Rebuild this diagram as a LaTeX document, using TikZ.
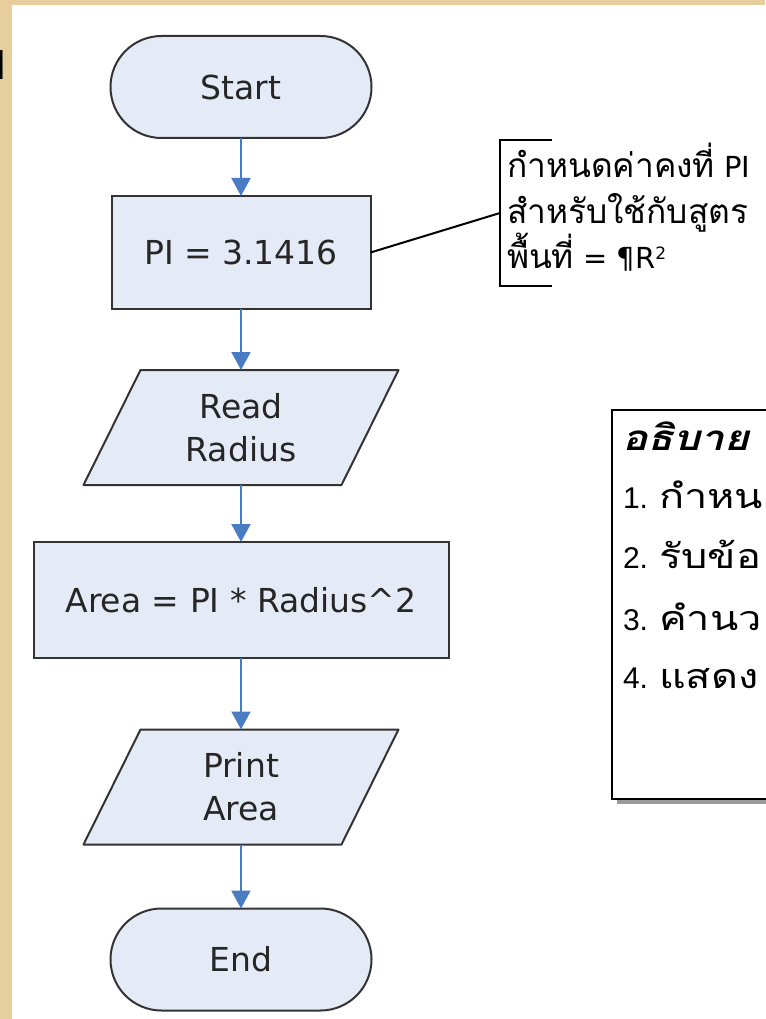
\documentclass[tikz,border=0pt]{standalone}
\usepackage{fontspec}
\setmainfont{DejaVu Sans}
\newfontfamily\thaifont[Script=Thai]{Loma}
\newfontfamily\thaiwide[Script=Thai,FakeStretch=1.22]{Loma}
\newfontfamily\arialfont{Liberation Sans}
\usetikzlibrary{arrows.meta,backgrounds}
\pgfdeclarelayer{paper}
\pgfsetlayers{paper,background,main}
\definecolor{tan}{HTML}{E6CF9C}
\definecolor{shapefill}{HTML}{E5EBF6}
\definecolor{stroke}{HTML}{333333}
\definecolor{arrowblue}{HTML}{4A7CC4}
\definecolor{shadowgray}{HTML}{9A9A9A}
\definecolor{txt}{HTML}{262626}
\newcommand{\thaibig}[1]{{\thaifont\fontsize{33.5}{40}\selectfont #1}}
\newcommand{\thaiitem}[1]{{\thaiwide\fontsize{34}{40}\selectfont #1}}
\begin{document}
\begin{tikzpicture}[x=1pt,y=-1pt,
  every node/.style={inner sep=0pt, outer sep=0pt, text=txt},
  flowtext/.style={font=\fontsize{33}{43}\selectfont, align=center},
  terminal/.style={flowtext, draw=stroke, fill=shapefill, line width=2pt, rounded corners=51pt, minimum width=261pt, minimum height=102pt},
  process/.style={flowtext, draw=stroke, fill=shapefill, line width=2pt},
  io/.style={flowtext, minimum width=258pt, minimum height=115pt},
  ioshape/.style={draw=stroke, fill=shapefill, line width=2pt, line join=round},
  flow/.style={draw=arrowblue, line width=2pt, -{Triangle[length=18pt,width=19pt]}},
  notetext/.style={anchor=base west, font=\fontsize{29}{36}\selectfont, text=black},
  expltext/.style={anchor=base west, font=\arialfont\fontsize{30}{34}\selectfont, text=black},
]
\useasboundingbox (0,0) rectangle (765,1019);
\begin{pgfonlayer}{paper}
  \fill[white] (0,0) rectangle (765,1019);
  \fill[tan] (0,0) rectangle (765,5);
  \fill[tan] (0,0) rectangle (12,1019);
\end{pgfonlayer}
% partial glyph at the left edge
\node[anchor=base east, font=\thaifont\bfseries\fontsize{40}{40}\selectfont, text=black] (edge) at (6,80) {ป};

% flowchart
\node[terminal] (start) at (241,87) {Start};
\node[process, minimum width=259pt, minimum height=113pt] (pi) at (241,252.5) {PI = 3.1416};
\node[io] (read) at (241,427.5) {Read\\Radius};
\node[process, minimum width=415pt, minimum height=116pt] (area) at (241,600) {Area = PI * Radius\textasciicircum 2};
\node[io] (print) at (241,787) {Print\\Area};
\node[terminal] (end) at (241,959.5) {End};
\begin{pgfonlayer}{background}
  \foreach \n in {read,print}
    \draw[ioshape] ([xshift=28.5pt]\n.north west) -- ([xshift=28.5pt]\n.north east)
      -- ([xshift=-28.5pt]\n.south east) -- ([xshift=-28.5pt]\n.south west) -- cycle;
\end{pgfonlayer}
\draw[flow] (start) -- (pi);
\draw[flow] (pi) -- (read);
\draw[flow] (read) -- (area);
\draw[flow] (area) -- (print);
\draw[flow] (print) -- (end);

% callout
\coordinate (btop) at (500,140);
\coordinate (bmid) at (500,213);
\coordinate (bbot) at (500,286);
\draw[line width=2pt, stroke] ([xshift=52pt]btop) -- (btop) -- (bbot) -- ([xshift=52pt]bbot);
\draw[line width=2pt, stroke] (pi.east) -- (bmid);
\node[notetext] (n1) at (507,178) {\thaibig{กำหนดค่าคงที่} PI};
\node[notetext] (n2) at (507,223) {\thaibig{สำหรับใช้กับสูตร}};
\node[notetext] (n3) at (507,268) {\thaibig{พื้นที่} = ¶R\raisebox{9pt}{\fontsize{17}{17}\selectfont 2}};

% explanation box
\node[draw=black, fill=white, line width=2pt, anchor=north west, minimum width=200pt, minimum height=389pt] (expl) at (612,410) {};
\begin{pgfonlayer}{background}
  \fill[shadowgray] ([shift={(5pt,-5pt)}]expl.north west) rectangle ([shift={(5pt,-5pt)}]expl.south east);
\end{pgfonlayer}
\node[expltext, font=\thaiwide\bfseries\itshape\fontsize{35}{44}\selectfont] (title) at (622,450) {อธิบาย};
\node[expltext] (s1) at (623,508) {1. \thaiitem{กำหน}};
\node[expltext] (s2) at (623,568) {2. \thaiitem{รับข้อ}};
\node[expltext] (s3) at (623,630) {3. \thaiitem{คำนว}};
\node[expltext] (s4) at (623,688) {4. \thaiitem{แสดง}};
\end{tikzpicture}
\end{document}
